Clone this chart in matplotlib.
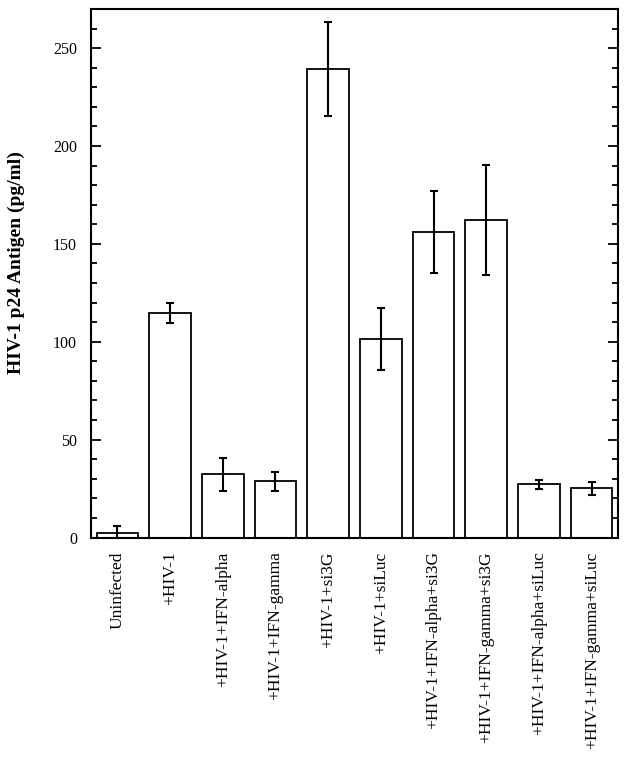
import matplotlib
matplotlib.use("Agg")
import matplotlib.pyplot as plt
from matplotlib.ticker import MultipleLocator

categories = ["Uninfected", "+HIV-1", "+HIV-1+IFN-alpha", "+HIV-1+IFN-gamma",
              "+HIV-1+si3G", "+HIV-1+siLuc", "+HIV-1+IFN-alpha+si3G",
              "+HIV-1+IFN-gamma+si3G", "+HIV-1+IFN-alpha+siLuc",
              "+HIV-1+IFN-gamma+siLuc"]
values = [2.2, 114.8, 32.3, 28.7, 239.5, 101.4, 156.2, 162.2, 27.2, 25.2]
errors = [3.7, 5.0, 8.5, 4.8, 24.0, 16.0, 21.0, 28.0, 2.3, 3.3]
yticks = [0, 50, 100, 150, 200, 250]

plt.rcParams['font.family'] = ['Liberation Serif', 'DejaVu Serif']

fig = plt.figure(figsize=(6.29, 7.57), dpi=100)
ax = fig.add_axes([91/629, 1-537.5/757, (618-91)/629, (537.5-9)/757])

x = list(range(len(categories)))
ax.bar(x, values, width=0.79, color='white', edgecolor='black', linewidth=1.3, zorder=2)
ax.errorbar(x, values, yerr=errors, fmt='none', ecolor='black', elinewidth=1.5,
            capsize=3, capthick=1.5, zorder=3)

ax.set_xlim(-0.5, len(categories)-0.5)
ax.set_ylim(0, 270)
ax.set_yticks(yticks)
ax.yaxis.set_minor_locator(MultipleLocator(10))
ax.tick_params(axis='y', which='both', direction='in', left=True, right=True,
               labelsize=11.5, pad=10, width=1.3)
ax.tick_params(axis='y', which='major', length=7.5)
ax.tick_params(axis='y', which='minor', length=4)
ax.set_xticks(x)
ax.set_xticklabels(categories, rotation=90, fontsize=12.5)
ax.tick_params(axis='x', length=0, pad=10)
for s in ax.spines.values():
    s.set_linewidth(1.5)

ax.set_ylabel("HIV-1 p24 Antigen (pg/ml)", fontsize=14, fontweight='bold')
ax.yaxis.set_label_coords(-0.126, 0.52)

fig.savefig("out.png", dpi=100, facecolor='white')
